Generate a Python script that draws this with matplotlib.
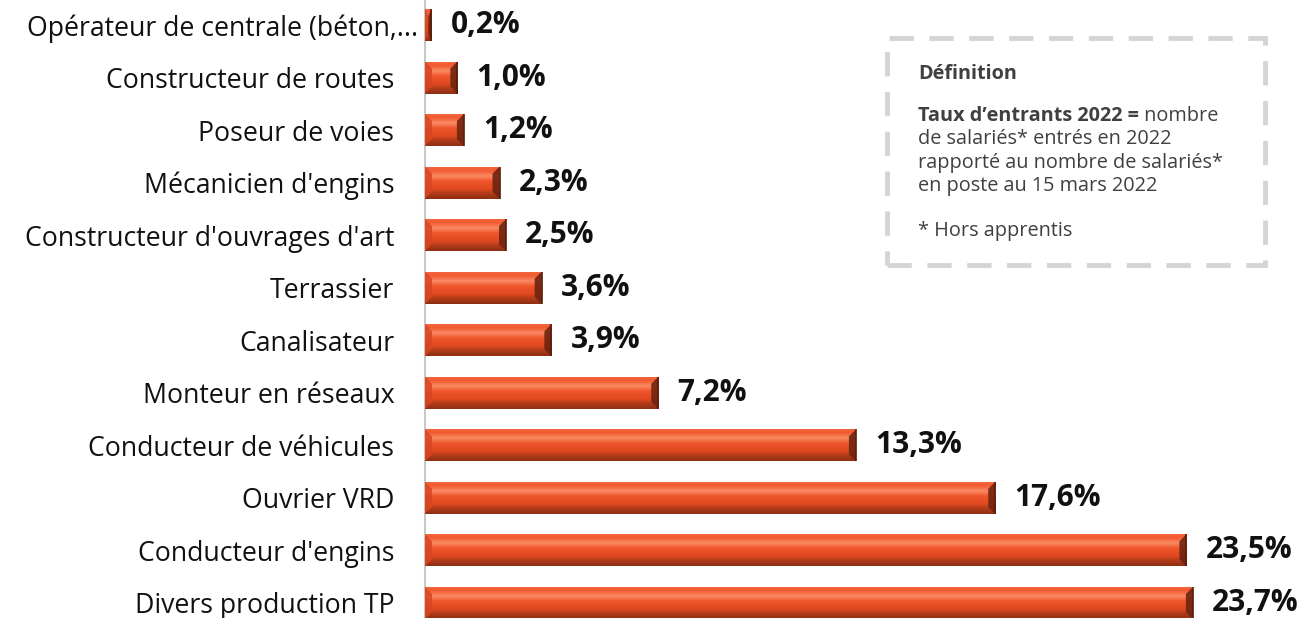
import numpy as np
import matplotlib
matplotlib.use("Agg")
import matplotlib.pyplot as plt
import matplotlib.transforms as mtransforms
from matplotlib.patches import Polygon, Rectangle
from matplotlib.colors import LinearSegmentedColormap

# Taux d'entrants 2022 par métier (en %)
categories = [
    "Opérateur de centrale (béton,...",
    "Constructeur de routes",
    "Poseur de voies",
    "Mécanicien d'engins",
    "Constructeur d'ouvrages d'art",
    "Terrassier",
    "Canalisateur",
    "Monteur en réseaux",
    "Conducteur de véhicules",
    "Ouvrier VRD",
    "Conducteur d'engins",
    "Divers production TP",
]
values = [0.2, 1.0, 1.2, 2.3, 2.5, 3.6, 3.9, 7.2, 13.3, 17.6, 23.5, 23.7]
value_labels = ["0,2%", "1,0%", "1,2%", "2,3%", "2,5%", "3,6%", "3,9%",
                "7,2%", "13,3%", "17,6%", "23,5%", "23,7%"]

W, H = 1301, 618
fig = plt.figure(figsize=(W / 100, H / 100), dpi=100)
ax = fig.add_axes([425 / W, 0, 1 - 425 / W, 1])

px_per_x = 32.4          # pixels per percentage point
px_per_y = 52.5          # pixels per category row
ax.set_xlim(0, (W - 425) / px_per_x)
ax.set_ylim(len(categories) - 1 + 15 / px_per_y, -25 / px_per_y)

pos = np.arange(len(categories))
bars = ax.barh(pos, values, height=0.61, color="#e8502a", linewidth=0, zorder=2)

# vertical shading of the bar face (top -> bottom)
face_cmap = LinearSegmentedColormap.from_list("face", [
    (0.00, "#f36a45"),
    (0.12, "#f2592f"),
    (0.30, "#f98a62"),
    (0.45, "#f0562c"),
    (0.70, "#e0481f"),
    (0.82, "#b53d1a"),
    (1.00, "#8e2e12"),
])
grad = np.linspace(0, 1, 64).reshape(-1, 1)

bev_px = 7.0
for rect in bars.patches:
    x0, w = rect.get_x(), rect.get_width()
    y0, h = rect.get_y(), rect.get_height()
    x1, y1 = x0 + w, y0 + h
    im = ax.imshow(grad, cmap=face_cmap, aspect="auto",
                   extent=[x0, x1, y1, y0], zorder=3, interpolation="bilinear")
    im.set_clip_path(rect)
    dx = min(bev_px / px_per_x, w / 2)
    dy = min(bev_px / px_per_y, h / 2)
    # left chamfer
    ax.add_patch(Polygon([[x0, y0], [x0 + dx, y0 + dy], [x0 + dx, y1 - dy], [x0, y1]],
                         closed=True, facecolor="#d9461f", edgecolor="none",
                         alpha=0.85, zorder=4))
    # right chamfer
    ax.add_patch(Polygon([[x1, y0], [x1 - dx, y0 + dy], [x1 - dx, y1 - dy], [x1, y1]],
                         closed=True, facecolor="#6e2410", edgecolor="none",
                         alpha=0.9, zorder=4))
    # thin dark outline at the right end
    ax.plot([x1, x1], [y0, y1], color="#5a1c0c", lw=1.2, zorder=5,
            solid_capstyle="butt")

for yi, v, lab in zip(pos, values, value_labels):
    ax.annotate(lab, xy=(v, yi), xytext=(19, 0), textcoords="offset pixels",
                ha="left", va="center", fontsize=21.5, fontweight="bold",
                family="Open Sans", color="#111111", zorder=6)

ax.set_yticks(pos)
ax.set_yticklabels(categories, family="Open Sans", fontsize=19.2, color="#111111")
ax.tick_params(axis="y", length=0, pad=22)
# the truncated first label sits closer to the axis
first = ax.get_yticklabels()[0]
first.set_transform(first.get_transform() +
                    mtransforms.ScaledTranslation(24 / 100, 0, fig.dpi_scale_trans))
ax.set_xticks([])
for s in ["top", "right", "bottom"]:
    ax.spines[s].set_visible(False)
ax.spines["left"].set_color("#c8c8c8")
ax.spines["left"].set_linewidth(1.5)

# definition box
fig.patches.append(Rectangle((887 / W, 1 - 265 / H), (1265 - 887) / W, (265 - 38) / H,
                             transform=fig.transFigure, fill=False,
                             edgecolor="#d4d4d4", linewidth=3.5,
                             linestyle=(0, (5, 3.2)), zorder=10))

tx = 918 / W
txt_kw = dict(family="Open Sans", fontsize=14.3, color="#404040", va="center", ha="left")
fig.text(tx, 1 - 74 / H, "Définition", fontweight="bold", **txt_kw)
t_bold = fig.text(tx, 1 - 116 / H, "Taux d’entrants 2022 =", fontweight="bold", **txt_kw)
fig.canvas.draw()
bb = t_bold.get_window_extent(renderer=fig.canvas.get_renderer())
fig.text(bb.x1 / W, 1 - 116 / H, " nombre", **txt_kw)
fig.text(tx, 1 - 139 / H, "de salariés* entrés en 2022", **txt_kw)
fig.text(tx, 1 - 163 / H, "rapporté au nombre de salariés*", **txt_kw)
fig.text(tx, 1 - 186 / H, "en poste au 15 mars 2022", **txt_kw)
fig.text(tx, 1 - 231 / H, "* Hors apprentis", **txt_kw)

fig.savefig("out.png", dpi=100, facecolor="white")
